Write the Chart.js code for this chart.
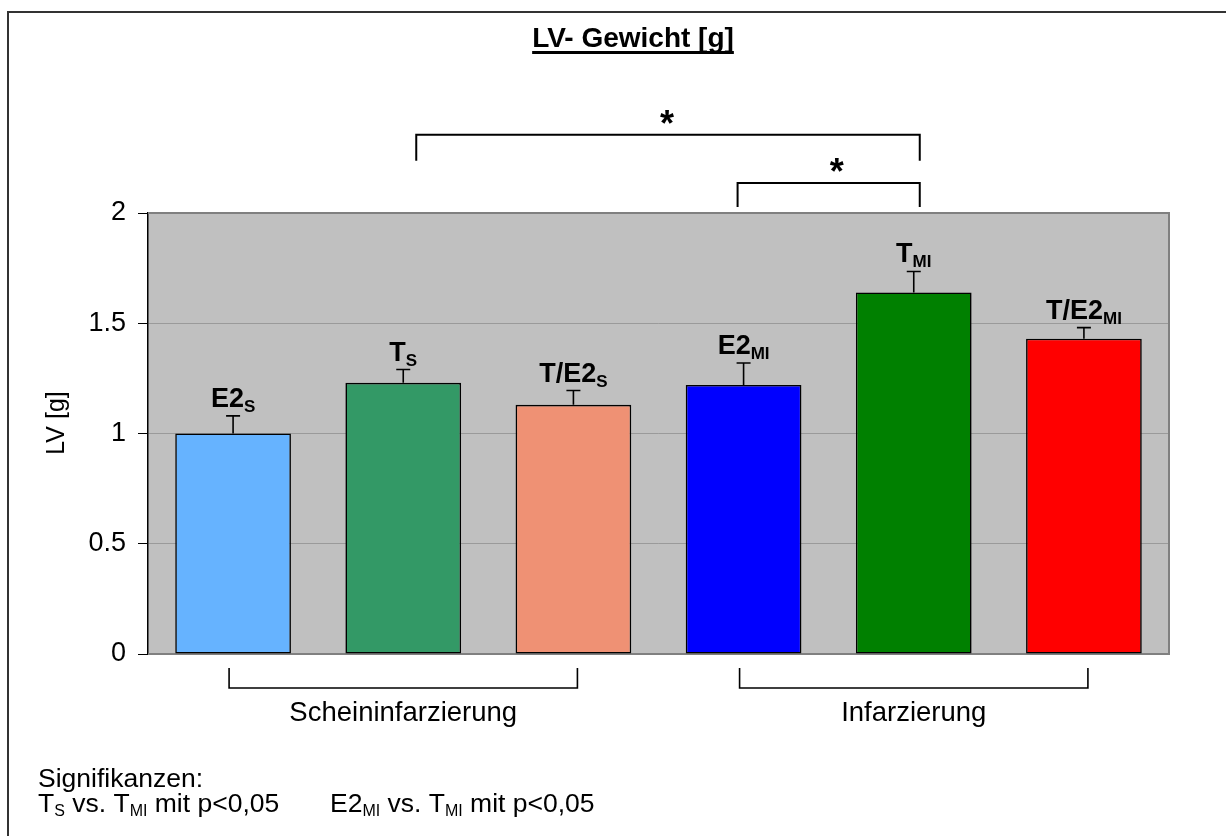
<!DOCTYPE html>
<html>
<head>
<meta charset="utf-8">
<title>LV- Gewicht [g]</title>
<script src="https://cdn.jsdelivr.net/npm/chart.js@4/dist/chart.umd.min.js"></script>
<style>
  html, body { margin: 0; padding: 0; background: #fff; }
  canvas { display: block; }
</style>
</head>
<body>
<canvas id="lv" width="1226" height="836"></canvas>
<script>
// Groups (name + subscript, split on "_")
const categories = ['E2_S', 'T_S', 'T/E2_S', 'E2_MI', 'T_MI', 'T/E2_MI'];
// Mean left-ventricular weight [g]
const lvMean = [1.00, 1.23, 1.13, 1.22, 1.64, 1.43];
// Standard error of the mean [g]
const lvSem = [0.08, 0.06, 0.065, 0.10, 0.095, 0.05];
// Y axis ticks
const yTicks = [0, 0.5, 1, 1.5, 2];
// Treatment groups shown under the axis (category index ranges)
const groupNames = ['Scheininfarzierung', 'Infarzierung'];
const groupFrom = [0, 3];
const groupTo = [2, 5];
// Significant pairs (category indices)
const sigPairs = [[1, 4], [3, 4]];

const barColors = ['#66b3ff', '#339966', '#ef9174', '#0000ff', '#008000', '#ff0000'];
const FONT = "'Liberation Sans', Arial, Helvetica, sans-serif";

// Draws "main" followed by a lowered, smaller "sub"; returns the total width
function subText(ctx, main, sub, x, y, mainFont, subFont, drop, align) {
  ctx.font = mainFont;
  const wm = ctx.measureText(main).width;
  ctx.font = subFont;
  const ws = ctx.measureText(sub).width;
  const w = wm + ws;
  let x0 = x;
  if (align === 'center') x0 = x - w / 2;
  ctx.textAlign = 'left';
  ctx.textBaseline = 'alphabetic';
  ctx.font = mainFont;
  ctx.fillText(main, x0, y);
  ctx.font = subFont;
  ctx.fillText(sub, x0 + wm, y + drop);
  return w;
}

// Writes a run of [text, isSubscript] pieces from left to right
function richLine(ctx, parts, x, y, size) {
  let cx = x;
  ctx.textAlign = 'left';
  ctx.textBaseline = 'alphabetic';
  for (const [txt, isSub] of parts) {
    ctx.font = (isSub ? Math.round(size * 0.62) : size) + 'px ' + FONT;
    ctx.fillText(txt, cx, y + (isSub ? 4 : 0));
    cx += ctx.measureText(txt).width;
  }
  return cx;
}

const framePlugin = {
  id: 'frame',
  beforeDraw(chart) {
    const { ctx, chartArea: a } = chart;
    ctx.save();
    ctx.fillStyle = '#fff';
    ctx.fillRect(0, 0, chart.width, chart.height);
    // outer frame
    ctx.strokeStyle = '#333';
    ctx.lineWidth = 2;
    ctx.strokeRect(8, 12, chart.width + 20, chart.height + 20);
    // plot background
    ctx.fillStyle = '#c0c0c0';
    ctx.fillRect(a.left, a.top, a.right - a.left, a.bottom - a.top);
    ctx.restore();
  },
  beforeDatasetsDraw(chart) {
    const { ctx, chartArea: a } = chart;
    ctx.save();
    ctx.strokeStyle = '#808080';
    ctx.lineWidth = 2;
    ctx.beginPath();
    ctx.moveTo(a.left, a.top);
    ctx.lineTo(a.right, a.top);
    ctx.lineTo(a.right, a.bottom);
    ctx.lineTo(a.left, a.bottom);
    ctx.stroke();
    ctx.restore();
  }
};

const annotationPlugin = {
  id: 'annotations',
  afterDatasetsDraw(chart) {
    const { ctx, chartArea: a } = chart;
    const ys = chart.scales.y;
    const xs = chart.scales.x;
    const meta = chart.getDatasetMeta(0);
    ctx.save();
    ctx.fillStyle = '#000';
    ctx.strokeStyle = '#000';

    // error bars and group labels above each bar
    meta.data.forEach((bar, i) => {
      const yTop = ys.getPixelForValue(lvMean[i]);
      const yErr = ys.getPixelForValue(lvMean[i] + lvSem[i]);
      ctx.lineWidth = 1.6;
      ctx.beginPath();
      ctx.moveTo(bar.x, yTop);
      ctx.lineTo(bar.x, yErr);
      ctx.moveTo(bar.x - 7, yErr);
      ctx.lineTo(bar.x + 7, yErr);
      ctx.stroke();
      const [main, sub] = categories[i].split('_');
      subText(ctx, main, sub, bar.x, yErr - 9,
        'bold 27px ' + FONT, 'bold 17px ' + FONT, 5, 'center');
    });

    // significance brackets
    const sigLevels = [2.355, 2.136];
    const legDepth = [26, 24];
    const endNudge = [[13, 6], [-6, 6]];
    sigPairs.forEach(([p, q], k) => {
      const x1 = xs.getPixelForValue(p) + endNudge[k][0];
      const x2 = xs.getPixelForValue(q) + endNudge[k][1];
      const yl = ys.getPixelForValue(sigLevels[k]);
      ctx.lineWidth = 2;
      ctx.beginPath();
      ctx.moveTo(x1, yl + legDepth[k]);
      ctx.lineTo(x1, yl);
      ctx.lineTo(x2, yl);
      ctx.lineTo(x2, yl + legDepth[k]);
      ctx.stroke();
      ctx.font = 'bold 36px ' + FONT;
      ctx.textAlign = 'center';
      ctx.textBaseline = 'alphabetic';
      ctx.fillText('*', (x1 + x2) / 2 + (k === 1 ? 8 : -1), yl + 1);
    });

    // treatment brackets under the axis
    groupNames.forEach((name, g) => {
      const x1 = xs.getPixelForValue(groupFrom[g]) - 4;
      const x2 = xs.getPixelForValue(groupTo[g]) + 4;
      const yb = a.bottom + 34;
      ctx.lineWidth = 1.6;
      ctx.beginPath();
      ctx.moveTo(x1, yb - 20);
      ctx.lineTo(x1, yb);
      ctx.lineTo(x2, yb);
      ctx.lineTo(x2, yb - 20);
      ctx.stroke();
      ctx.font = '27.5px ' + FONT;
      ctx.textAlign = 'center';
      ctx.textBaseline = 'alphabetic';
      const mid = xs.getPixelForValue((groupFrom[g] + groupTo[g]) / 2);
      ctx.fillText(name, mid, a.bottom + 67);
    });

    // y axis title
    ctx.save();
    ctx.translate(57, 423);
    ctx.rotate(-Math.PI / 2);
    ctx.font = '25px ' + FONT;
    ctx.textAlign = 'center';
    ctx.textBaseline = 'middle';
    ctx.fillText('LV [g]', 0, 0);
    ctx.restore();

    // title with underline
    ctx.font = 'bold 28px ' + FONT;
    ctx.textAlign = 'center';
    ctx.textBaseline = 'alphabetic';
    const title = 'LV- Gewicht [g]';
    const tx = 633;
    ctx.fillText(title, tx, 47);
    const tw = ctx.measureText(title).width;
    ctx.fillRect(tx - tw / 2, 51, tw, 3);

    // footnote
    ctx.font = '26.5px ' + FONT;
    ctx.textAlign = 'left';
    ctx.fillText('Signifikanzen:', 38, 787);
    richLine(ctx, [['T', false], ['S', true], [' vs. T', false], ['MI', true], [' mit p<0,05', false]], 38, 812, 26.5);
    richLine(ctx, [['E2', false], ['MI', true], [' vs. T', false], ['MI', true], [' mit p<0,05', false]], 330, 812, 26.5);

    ctx.restore();
  }
};

new Chart(document.getElementById('lv'), {
  type: 'bar',
  data: {
    labels: categories,
    datasets: [{
      data: lvMean,
      backgroundColor: barColors,
      borderColor: '#000',
      borderWidth: 1.6,
      borderSkipped: false,
      barPercentage: 1,
      categoryPercentage: 0.68
    }]
  },
  options: {
    responsive: false,
    devicePixelRatio: 1,
    animation: false,
    layout: { padding: { top: 213, bottom: 182, left: 0, right: 57 } },
    plugins: {
      legend: { display: false },
      tooltip: { enabled: false },
      title: { display: false }
    },
    scales: {
      x: { display: false },
      y: {
        min: 0,
        max: 2,
        afterFit(scale) { scale.width = 148; },
        afterBuildTicks(scale) { scale.ticks = yTicks.map(v => ({ value: v })); },
        ticks: {
          color: '#000',
          padding: 12,
          font: { family: FONT, size: 27 },
          callback: v => String(v)
        },
        grid: {
          color: '#9a9a9a',
          lineWidth: 1,
          tickLength: 10,
          tickColor: '#000',
          drawTicks: true
        },
        border: { display: true, color: '#000', width: 1.5 },
        title: { display: false }
      }
    }
  },
  plugins: [framePlugin, annotationPlugin]
});
</script>
</body>
</html>
